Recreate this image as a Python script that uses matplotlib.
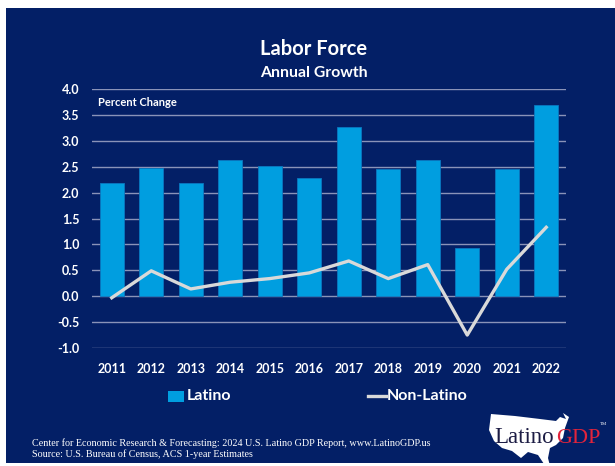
import matplotlib.pyplot as plt
import numpy as np
from matplotlib.patches import Polygon, Rectangle

years = ["2011", "2012", "2013", "2014", "2015", "2016",
         "2017", "2018", "2019", "2020", "2021", "2022"]
latino = [2.19, 2.48, 2.19, 2.62, 2.51, 2.28, 3.27, 2.45, 2.62, 0.93, 2.45, 3.70]
non_latino = [-0.03, 0.49, 0.14, 0.27, 0.34, 0.45, 0.68, 0.34, 0.61, -0.75, 0.52, 1.33]
yticks = [-1.0, -0.5, 0.0, 0.5, 1.0, 1.5, 2.0, 2.5, 3.0, 3.5, 4.0]

NAVY = "#031f66"
BAR = "#009ee0"
LINE = "#d9d9d9"
GRID = "#8a93b8"
FONT = "Lato"

W, H = 615, 466
fig = plt.figure(figsize=(W / 100, H / 100), dpi=100, facecolor="white")


def fx(px):
    return px / W


def fy(py):
    return 1 - py / H


# dark panel behind everything, with thin white margin at top/left/bottom
fig.patches.append(Rectangle((fx(6), fy(463)), 1 - fx(6), (463 - 8) / H,
                             transform=fig.transFigure, facecolor=NAVY,
                             edgecolor="none", zorder=-10))

ax = fig.add_axes([fx(92), fy(348), (566 - 92) / W, (348 - 89) / H])
ax.set_facecolor("none")
x = np.arange(len(years))
ax.bar(x, latino, width=0.62, color=BAR, edgecolor="#0a78c0", linewidth=0.6,
       zorder=3, label="Latino")
ax.plot(x, non_latino, color=LINE, linewidth=2.4, zorder=4, label="Non-Latino")

ax.set_ylim(-1.0, 4.0)
ax.set_xlim(-0.5, len(years) - 0.5)
ax.set_yticks(yticks)
ax.set_yticklabels([f"{v:.1f}" for v in yticks])
ax.set_xticks(x)
ax.set_xticklabels(years)
for lbl in ax.get_xticklabels() + ax.get_yticklabels():
    lbl.set_color("white")
    lbl.set_fontweight("bold")
    lbl.set_fontsize(9)
    lbl.set_family(FONT)
ax.tick_params(length=0, pad=9)
ax.tick_params(axis="x", pad=11)
ax.grid(axis="y", color=GRID, linewidth=1.0, zorder=0)
for s in ax.spines.values():
    s.set_visible(False)

ax.text(0.013, 3.73, "Percent Change", color="white", fontsize=8,
        fontweight="bold", family=FONT, va="center",
        transform=ax.get_yaxis_transform())

fig.text(fx(314), fy(49), "Labor Force", color="white", fontsize=14.5,
         fontweight="bold", family=FONT, ha="center", va="center")
fig.text(fx(314), fy(73), "Annual Growth", color="white", fontsize=11.3,
         fontweight="bold", family=FONT, ha="center", va="center")

# legend drawn by hand so the two entries sit far apart
fig.patches.append(Rectangle((fx(168), fy(402)), 16 / W, 11 / H,
                             transform=fig.transFigure, facecolor=BAR,
                             edgecolor="none"))
fig.text(fx(187), fy(396), "Latino", color="white", fontsize=11.5,
         fontweight="bold", family=FONT, va="center")
fig.lines.append(plt.Line2D([fx(368), fx(386)], [fy(396), fy(396)],
                            transform=fig.transFigure, color=LINE, linewidth=2.4))
fig.text(fx(387), fy(396), "Non-Latino", color="white", fontsize=11.5,
         fontweight="bold", family=FONT, va="center")

fig.text(fx(32), fy(443),
         "Center for Economic Research & Forecasting: 2024 U.S. Latino GDP Report, www.LatinoGDP.us",
         color="white", fontsize=7.3, family="Liberation Serif", va="center")
fig.text(fx(32), fy(454), "Source: U.S. Bureau of Census, ACS 1-year Estimates",
         color="white", fontsize=7.3, family="Liberation Serif", va="center")

# logo: rough white map outline with the wordmark on top
us = [(491, 414), (515, 416), (540, 419), (556, 421), (560, 417), (566, 419),
      (563, 413), (569, 417), (565, 428), (563, 438), (556, 445), (550, 448),
      (548, 458), (550, 466), (544, 464), (538, 455), (528, 452), (521, 458),
      (512, 451), (502, 448), (494, 441), (489, 430)]
fig.patches.append(Polygon([(fx(px), fy(py)) for px, py in us], closed=True,
                           transform=fig.transFigure, facecolor="white",
                           edgecolor="none"))
fig.text(fx(494), fy(443), "Latino", color="#1c1c44", fontsize=16.5,
         family="Liberation Serif", va="baseline")
fig.text(fx(556), fy(443), "GDP", color="#e3243b", fontsize=16,
         family="Liberation Serif", va="baseline")
fig.text(fx(600), fy(424), "TM", color="white", fontsize=3.5,
         family="Liberation Serif", va="center")

fig.savefig("out.png", dpi=100, facecolor="white")
